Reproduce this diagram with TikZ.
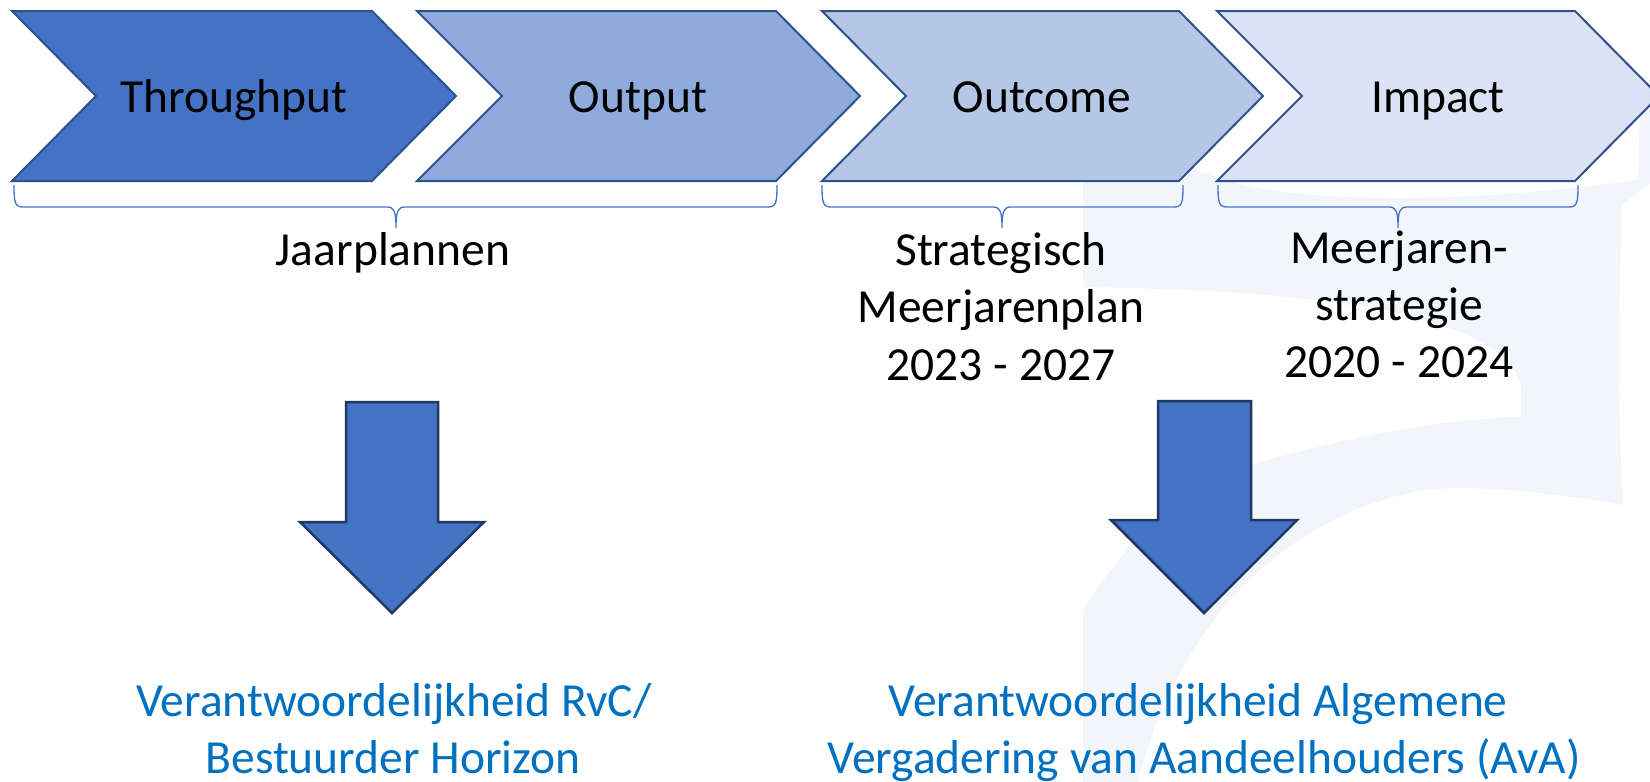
\documentclass[tikz,border=0pt]{standalone}
\usepackage{fontspec}
\setmainfont{Carlito}
\definecolor{cA}{HTML}{4472C4}
\definecolor{cB}{HTML}{8FAADC}
\definecolor{cC}{HTML}{B4C7E7}
\definecolor{cD}{HTML}{DAE3F3}
\definecolor{chevline}{HTML}{2F528F}
\definecolor{arrowline}{HTML}{1F3864}
\definecolor{respblue}{HTML}{0070C0}
\definecolor{wm}{RGB}{242,245,250}
\newcommand{\bracedraw}[3]{%
  \draw[bracepath] (#1,185) .. controls (#1,203) and ({#1+1},207) .. ({#1+9},207)
    -- ({#2-9},207) .. controls ({#2-2},207) and (#2,211) .. (#2,228)
    .. controls (#2,211) and ({#2+2},207) .. ({#2+9},207)
    -- ({#3-9},207) .. controls ({#3-1},207) and (#3,203) .. (#3,185);}
\begin{document}
\begin{tikzpicture}[x=1pt,y=-1pt,
  chev/.style={draw=chevline, line width=2pt, line join=miter},
  blockarrow/.style={fill=cA, draw=arrowline, line width=2.5pt, line join=miter},
  bracepath/.style={draw=cA, line width=1.3pt},
  lbl/.style={font=\fontsize{47.5}{58}\selectfont, inner sep=0pt, anchor=base, text=black},
  resp/.style={lbl, text=respblue}]
\useasboundingbox (0,0) rectangle (1650,782);
\fill[white] (0,0) rectangle (1650,782);
% faint watermark
\fill[wm] (1083,150) -- (1190,150) -- (1190,166)
  .. controls (1260,206) and (1450,206) .. (1638,180)
  -- (1640,110) -- (1652,110) -- (1652,182) -- (1622,205)
  .. controls (1618,320) and (1618,420) .. (1623,505)
  .. controls (1560,494) and (1480,484) .. (1425,490)
  .. controls (1300,510) and (1180,610) .. (1137,785)
  -- (1083,785) -- (1083,610)
  .. controls (1130,535) and (1190,480) .. (1260,462)
  .. controls (1340,440) and (1440,418) .. (1521,417)
  -- (1521,385)
  .. controls (1500,310) and (1300,290) .. (1083,287) -- cycle;
% chevrons
\draw[chev, fill=cA] (12,11) -- (372,11) -- (456,96) -- (372,181) -- (12,181) -- (96,96) -- cycle;
\draw[chev, fill=cB] (417,11) -- (776,11) -- (860,96) -- (776,181) -- (417,181) -- (502,96) -- cycle;
\draw[chev, fill=cC] (822,11) -- (1179,11) -- (1263,96) -- (1179,181) -- (822,181) -- (906,96) -- cycle;
\draw[chev, fill=cD] (1217,11) -- (1575,11) -- (1659,96) -- (1575,181) -- (1217,181) -- (1302,96) -- cycle;
\node[lbl] (throughput) at (234,112) {Throughput};
\node[lbl] (output) at (638,112) {Output};
\node[lbl] (outcome) at (1042,112) {Outcome};
\node[lbl] (impact) at (1438,112) {Impact};
% braces
\bracedraw{14}{396}{777}
\bracedraw{822}{1002}{1183}
\bracedraw{1218}{1398}{1578}
% labels
\node[lbl] (jaar) at (393,265) {Jaarplannen};
\node[lbl] (smp1) at (1001,265) {Strategisch};
\node[lbl] (smp2) at (1001,322) {Meerjarenplan};
\node[lbl] (smp3) at (1001,380) {2023 - 2027};
\node[lbl] (mjs1) at (1399,263) {Meerjaren-};
\node[lbl] (mjs2) at (1399,320) {strategie};
\node[lbl] (mjs3) at (1399,377) {2020 - 2024};
% block arrows
\draw[blockarrow] (346,402) -- (438,402) -- (438,522) -- (484,522) -- (392,613) -- (300,522) -- (346,522) -- cycle;
\draw[blockarrow] (1158,401) -- (1251,401) -- (1251,520) -- (1297,520) -- (1204,613) -- (1111,520) -- (1158,520) -- cycle;
% responsibilities
\node[resp] (rvc1) at (394,716) {Verantwoordelijkheid RvC/};
\node[resp] (rvc2) at (393,773) {Bestuurder Horizon};
\node[resp] (ava1) at (1198,716) {Verantwoordelijkheid Algemene};
\node[resp] (ava2) at (1204,773) {Vergadering van Aandeelhouders (AvA)};
\end{tikzpicture}
\end{document}
